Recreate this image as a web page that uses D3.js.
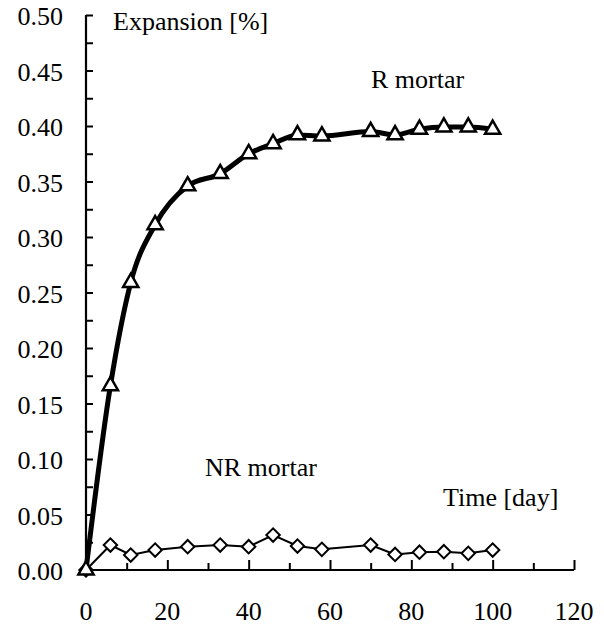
<!DOCTYPE html>
<html>
<head>
<meta charset="utf-8">
<script src="https://cdn.jsdelivr.net/npm/d3@7"></script>
<style>
  body { margin: 0; background: #fff; }
</style>
</head>
<body>
<div id="chart"></div>
<script>
// days of measurement
var days = [0, 6, 11, 17, 25, 33, 40, 46, 52, 58, 70, 76, 82, 88, 94, 100];
// expansion [%]
var rMortar = [0, 0.166, 0.259, 0.311, 0.346, 0.357, 0.375, 0.384, 0.392, 0.391, 0.395, 0.392, 0.397, 0.399, 0.399, 0.397];
var nrMortar = [0, 0.0225, 0.0135, 0.018, 0.021, 0.0225, 0.021, 0.0315, 0.0216, 0.0186, 0.0225, 0.014, 0.016, 0.0165, 0.015, 0.018];
var xTicks = [0, 20, 40, 60, 80, 100, 120];
var yTicks = [0, 0.05, 0.10, 0.15, 0.20, 0.25, 0.30, 0.35, 0.40, 0.45, 0.50];

var W = 604, H = 625;
var FONT = "'Liberation Serif', 'Times New Roman', Times, 'DejaVu Serif', serif";
var x = d3.scaleLinear().domain([0, 120]).range([86, 574]),
    y = d3.scaleLinear().domain([0, 0.5]).range([570, 15]);

var svg = d3.select("#chart").append("svg")
    .attr("width", W)
    .attr("height", H)
    .attr("font-family", FONT)
    .attr("font-size", 26);

function label(sel) {
  return sel.attr("font-family", FONT).attr("font-size", 26).attr("fill", "#000");
}

// y axis, ticks pointing inward
var yAxis = d3.axisRight(y)
    .tickValues(d3.range(0, 0.5001, 0.025))
    .tickSize(7)
    .tickFormat("");
var gy = svg.append("g").attr("transform", "translate(" + x(0) + ",0)").call(yAxis);
gy.select(".domain").attr("stroke-width", 2.2).attr("d", "M0," + y(0) + "V" + y(0.5));
gy.selectAll(".tick line").attr("stroke-width", 2);

svg.append("g").selectAll("text")
    .data(yTicks)
    .enter().append("text")
    .call(label)
    .attr("x", 63)
    .attr("y", function(d) { return y(d) + 10; })
    .attr("text-anchor", "end")
    .text(function(d) { return d3.format(".2f")(d); });

// x axis, ticks pointing up, long at every 20
var xAxis = d3.axisTop(x)
    .tickValues(d3.range(0, 121, 10))
    .tickSize(7)
    .tickFormat("");
var gx = svg.append("g").attr("transform", "translate(0," + y(0) + ")").call(xAxis);
gx.select(".domain").attr("stroke-width", 2.2).attr("d", "M" + x(0) + ",0H" + x(120));
gx.selectAll(".tick line")
    .attr("stroke-width", 2)
    .attr("y2", function(d) { return d % 20 === 0 ? -10 : -7; });

svg.append("g").selectAll("text")
    .data(xTicks)
    .enter().append("text")
    .call(label)
    .attr("x", function(d) { return x(d); })
    .attr("y", 620)
    .attr("text-anchor", "middle")
    .text(function(d) { return d; });

// series
var rData = days.map(function(d, i) { return [d, rMortar[i]]; });
var nrData = days.map(function(d, i) { return [d, nrMortar[i]]; });

var line = d3.line()
    .x(function(d) { return x(d[0]); })
    .y(function(d) { return y(d[1]); })
    .curve(d3.curveMonotoneX);

svg.append("path")
    .datum(nrData)
    .attr("fill", "none")
    .attr("stroke", "#000")
    .attr("stroke-width", 2)
    .attr("d", line.curve(d3.curveLinear));

svg.append("path")
    .datum(rData)
    .attr("fill", "none")
    .attr("stroke", "#000")
    .attr("stroke-width", 5)
    .attr("stroke-linejoin", "round")
    .attr("d", line.curve(d3.curveMonotoneX));

svg.append("g").selectAll("path")
    .data(nrData)
    .enter().append("path")
    .attr("d", d3.symbol(d3.symbolSquare, 90))
    .attr("transform", function(d) { return "translate(" + x(d[0]) + "," + y(d[1]) + ") rotate(45)"; })
    .attr("fill", "#fff")
    .attr("stroke", "#000")
    .attr("stroke-width", 2);

svg.append("g").selectAll("path")
    .data(rData)
    .enter().append("path")
    .attr("d", d3.symbol(d3.symbolTriangle, 100))
    .attr("transform", function(d) { return "translate(" + x(d[0]) + "," + y(d[1]) + ")"; })
    .attr("fill", "#fff")
    .attr("stroke", "#000")
    .attr("stroke-width", 2.5);

// labels
svg.append("text").call(label).attr("x", 113).attr("y", 30).text("Expansion [%]");
svg.append("text").call(label).attr("x", 371).attr("y", 88).text("R mortar");
svg.append("text").call(label).attr("x", 205).attr("y", 476).text("NR mortar");
svg.append("text").call(label).attr("x", 443).attr("y", 506).text("Time [day]");
</script>
</body>
</html>
